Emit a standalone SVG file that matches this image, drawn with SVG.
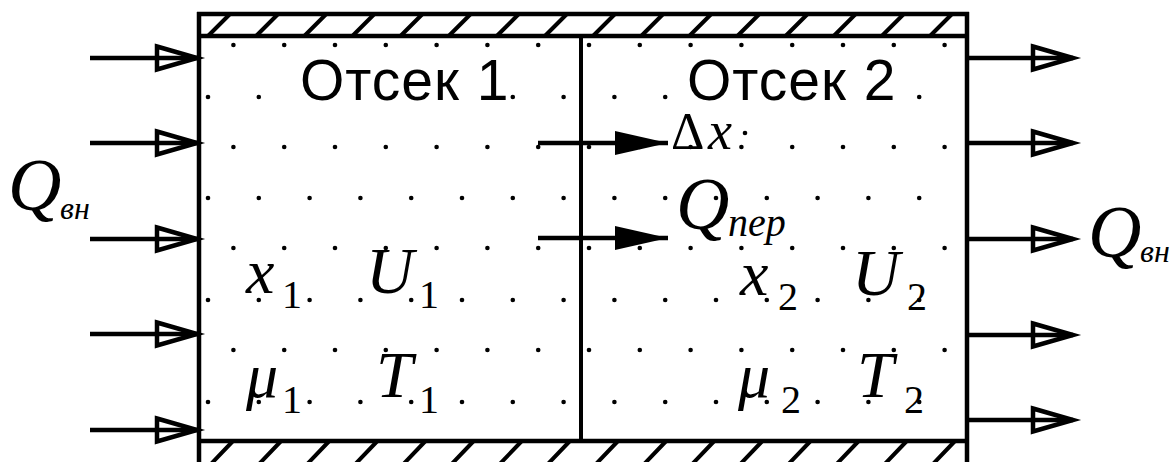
<svg xmlns="http://www.w3.org/2000/svg" width="1176" height="462" viewBox="0 0 1176 462">
<style>
.ln{stroke:#000;stroke-width:4.5;fill:none}
.hl{stroke:#000;stroke-width:4;fill:none}
.dot{fill:#000}
.lbl{font-family:"Liberation Sans",Arial,sans-serif;font-size:57px;letter-spacing:1px;fill:#000}
.m{font-family:"Liberation Serif","Times New Roman",serif;font-style:italic;fill:#000}
.up{font-style:normal}
</style>
<defs>
<marker id="open" markerUnits="userSpaceOnUse" markerWidth="60" markerHeight="40" viewBox="-5 -20 60 40" refX="40" refY="0" orient="auto" overflow="visible">
<polygon points="0,-11.5 40,0 0,11.5" fill="none" stroke="#000" stroke-width="4.5"/>
</marker>
<marker id="solid" markerUnits="userSpaceOnUse" markerWidth="60" markerHeight="40" viewBox="-5 -20 60 40" refX="53" refY="0" orient="auto" overflow="visible">
<polygon points="0,-12 53,0 0,12" fill="#000"/>
</marker>
<circle id="d" r="2.3"/>
</defs>
<rect width="1176" height="462" fill="#fff"/>

<g id="walls">
<line class="ln" x1="197" y1="14" x2="969" y2="14"/>
<line class="ln" x1="197" y1="36" x2="969" y2="36"/>
<line class="ln" x1="197" y1="441" x2="969" y2="441"/>
<line class="ln" x1="199" y1="12" x2="199" y2="462"/>
<line class="ln" x1="967" y1="12" x2="967" y2="462"/>
<g id="hatch-top" class="hl">
<path d="M208,36L230,14M256.1,36L278.1,14M304.3,36L326.3,14M352.4,36L374.4,14M400.5,36L422.5,14M448.7,36L470.7,14M496.8,36L518.8,14M544.9,36L566.9,14M593,36L615,14M641.2,36L663.2,14M689.3,36L711.3,14M737.4,36L759.4,14M785.6,36L807.6,14M833.7,36L855.7,14M881.8,36L903.8,14M930,36L952,14"/>
</g>
<g id="hatch-bottom" class="hl">
<path d="M211,464L233,441M259.1,464L281.1,441M307.3,464L329.3,441M355.4,464L377.4,441M403.5,464L425.5,441M451.7,464L473.7,441M499.8,464L521.8,441M547.9,464L569.9,441M596,464L618,441M644.2,464L666.2,441M692.3,464L714.3,441M740.4,464L762.4,441M788.6,464L810.6,441M836.7,464L858.7,441M884.8,464L906.8,441M933,464L955,441"/>
</g>
</g>

<g id="dots" class="dot">
<g id="row-odd">
<use href="#d" x="233.4" y="45"/><use href="#d" x="284.2" y="45"/><use href="#d" x="335" y="45"/><use href="#d" x="385.8" y="45"/><use href="#d" x="436.6" y="45"/><use href="#d" x="487.4" y="45"/><use href="#d" x="538.2" y="45"/><use href="#d" x="589" y="45"/><use href="#d" x="639.8" y="45"/><use href="#d" x="690.6" y="45"/><use href="#d" x="741.4" y="45"/><use href="#d" x="792.2" y="45"/><use href="#d" x="843" y="45"/><use href="#d" x="893.8" y="45"/><use href="#d" x="944.6" y="45"/>
<use href="#d" x="233.4" y="147"/><use href="#d" x="284.2" y="147"/><use href="#d" x="335" y="147"/><use href="#d" x="385.8" y="147"/><use href="#d" x="436.6" y="147"/><use href="#d" x="487.4" y="147"/><use href="#d" x="538.2" y="147"/><use href="#d" x="589" y="147"/><use href="#d" x="639.8" y="147"/><use href="#d" x="690.6" y="147"/><use href="#d" x="741.4" y="147"/><use href="#d" x="792.2" y="147"/><use href="#d" x="843" y="147"/><use href="#d" x="893.8" y="147"/><use href="#d" x="944.6" y="147"/>
<use href="#d" x="233.4" y="248"/><use href="#d" x="284.2" y="248"/><use href="#d" x="335" y="248"/><use href="#d" x="385.8" y="248"/><use href="#d" x="436.6" y="248"/><use href="#d" x="487.4" y="248"/><use href="#d" x="538.2" y="248"/><use href="#d" x="589" y="248"/><use href="#d" x="639.8" y="248"/><use href="#d" x="690.6" y="248"/><use href="#d" x="741.4" y="248"/><use href="#d" x="792.2" y="248"/><use href="#d" x="843" y="248"/><use href="#d" x="893.8" y="248"/><use href="#d" x="944.6" y="248"/>
<use href="#d" x="233.4" y="350"/><use href="#d" x="284.2" y="350"/><use href="#d" x="335" y="350"/><use href="#d" x="385.8" y="350"/><use href="#d" x="436.6" y="350"/><use href="#d" x="487.4" y="350"/><use href="#d" x="538.2" y="350"/><use href="#d" x="589" y="350"/><use href="#d" x="639.8" y="350"/><use href="#d" x="690.6" y="350"/><use href="#d" x="741.4" y="350"/><use href="#d" x="792.2" y="350"/><use href="#d" x="843" y="350"/><use href="#d" x="893.8" y="350"/><use href="#d" x="944.6" y="350"/>
</g>
<g id="row-even">
<use href="#d" x="208" y="97"/><use href="#d" x="258.8" y="97"/><use href="#d" x="512.8" y="97"/><use href="#d" x="563.6" y="97"/><use href="#d" x="614.4" y="97"/><use href="#d" x="665.2" y="97"/><use href="#d" x="919.2" y="97"/>
<use href="#d" x="208" y="198"/><use href="#d" x="258.8" y="198"/><use href="#d" x="309.6" y="198"/><use href="#d" x="360.4" y="198"/><use href="#d" x="411.2" y="198"/><use href="#d" x="462" y="198"/><use href="#d" x="512.8" y="198"/><use href="#d" x="563.6" y="198"/><use href="#d" x="614.4" y="198"/><use href="#d" x="665.2" y="198"/><use href="#d" x="716" y="198"/><use href="#d" x="766.8" y="198"/><use href="#d" x="817.6" y="198"/><use href="#d" x="868.4" y="198"/><use href="#d" x="919.2" y="198"/>
<use href="#d" x="208" y="300"/><use href="#d" x="258.8" y="300"/><use href="#d" x="309.6" y="300"/><use href="#d" x="360.4" y="300"/><use href="#d" x="411.2" y="300"/><use href="#d" x="462" y="300"/><use href="#d" x="512.8" y="300"/><use href="#d" x="563.6" y="300"/><use href="#d" x="614.4" y="300"/><use href="#d" x="665.2" y="300"/><use href="#d" x="716" y="300"/><use href="#d" x="766.8" y="300"/><use href="#d" x="817.6" y="300"/><use href="#d" x="868.4" y="300"/><use href="#d" x="919.2" y="300"/>
<use href="#d" x="208" y="402"/><use href="#d" x="258.8" y="402"/><use href="#d" x="309.6" y="402"/><use href="#d" x="360.4" y="402"/><use href="#d" x="411.2" y="402"/><use href="#d" x="462" y="402"/><use href="#d" x="512.8" y="402"/><use href="#d" x="563.6" y="402"/><use href="#d" x="614.4" y="402"/><use href="#d" x="665.2" y="402"/><use href="#d" x="716" y="402"/><use href="#d" x="766.8" y="402"/><use href="#d" x="817.6" y="402"/><use href="#d" x="868.4" y="402"/><use href="#d" x="919.2" y="402"/>
</g>
<use href="#d" x="745" y="133"/>
</g>

<g id="compartment-1">
<text class="lbl" x="300" y="100">Отсек 1</text>
<text class="m" x="246" y="293" font-size="64">x<tspan class="up" x="282" y="308" font-size="40">1</tspan></text>
<text class="m" x="366" y="293" font-size="66">U<tspan class="up" x="419" y="308" font-size="40">1</tspan></text>
<text class="m" x="246" y="397" font-size="64">μ<tspan class="up" x="282" y="413" font-size="40">1</tspan></text>
<text class="m" x="376" y="397" font-size="66">T<tspan class="up" x="419" y="413" font-size="40">1</tspan></text>
</g>

<g id="compartment-2">
<text class="lbl" x="687" y="100">Отсек 2</text>
<text class="m" x="740" y="295" font-size="64">x<tspan class="up" x="778" y="310" font-size="40">2</tspan></text>
<text class="m" x="852" y="295" font-size="66">U<tspan class="up" x="907" y="310" font-size="40">2</tspan></text>
<text class="m" x="738" y="397" font-size="64">μ<tspan class="up" x="781" y="413" font-size="40">2</tspan></text>
<text class="m" x="857" y="397" font-size="66">T<tspan class="up" x="904" y="413" font-size="40">2</tspan></text>
</g>

<g id="divider">
<line x1="581" y1="36" x2="581" y2="441" stroke="#000" stroke-width="4"/>
</g>

<g id="connectors">
<g id="inflow" class="ln">
<line x1="90" y1="58" x2="197" y2="58" marker-end="url(#open)"/>
<line x1="90" y1="143" x2="197" y2="143" marker-end="url(#open)"/>
<line x1="90" y1="239" x2="197" y2="239" marker-end="url(#open)"/>
<line x1="90" y1="334" x2="197" y2="334" marker-end="url(#open)"/>
<line x1="90" y1="430" x2="197" y2="430" marker-end="url(#open)"/>
</g>
<g id="outflow" class="ln">
<line x1="967" y1="58" x2="1073" y2="58" marker-end="url(#open)"/>
<line x1="967" y1="143" x2="1073" y2="143" marker-end="url(#open)"/>
<line x1="967" y1="239" x2="1073" y2="239" marker-end="url(#open)"/>
<line x1="967" y1="335" x2="1073" y2="335" marker-end="url(#open)"/>
<line x1="967" y1="420" x2="1073" y2="420" marker-end="url(#open)"/>
</g>
<g id="transfer" class="ln">
<line x1="538" y1="143" x2="668" y2="143" marker-end="url(#solid)"/>
<line x1="538" y1="238" x2="668" y2="238" marker-end="url(#solid)"/>
</g>
</g>

<g id="labels">
<text class="m" x="8" y="210" font-size="74">Q<tspan x="60" y="219" font-size="32">вн</tspan></text>
<text class="m" x="1088" y="257" font-size="74">Q<tspan x="1140" y="262" font-size="32">вн</tspan></text>
<text class="m" x="671" y="149" font-size="52"><tspan class="up">Δ</tspan><tspan x="708" font-size="54">x</tspan></text>
<text class="m" x="676" y="229" font-size="74">Q<tspan x="728" y="236" font-size="40">пер</tspan></text>
</g>
</svg>
